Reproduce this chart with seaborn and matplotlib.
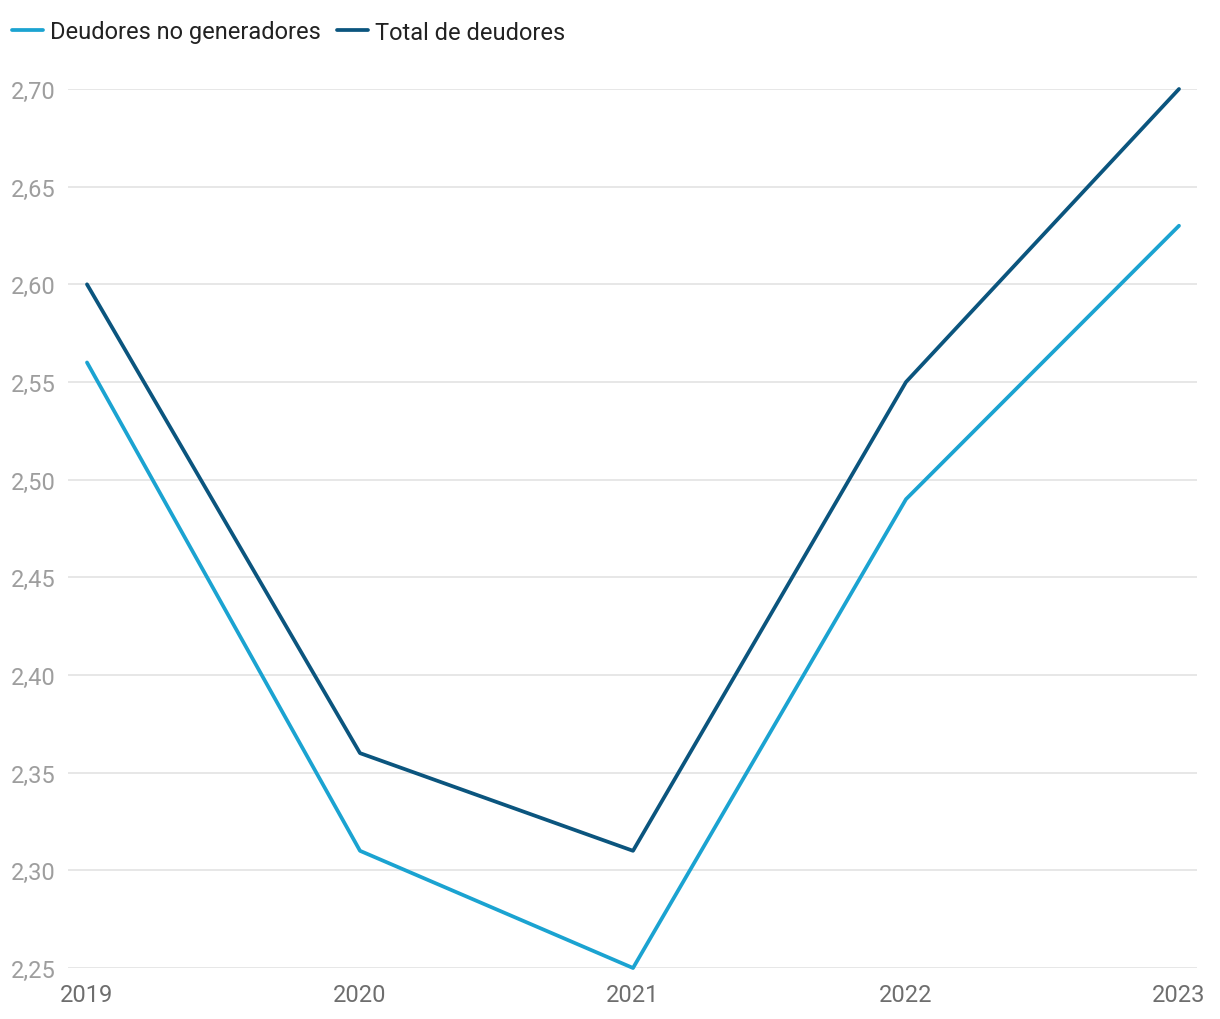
import matplotlib
matplotlib.use("Agg")
import matplotlib.pyplot as plt
import seaborn as sns
import pandas as pd
from matplotlib.ticker import FuncFormatter, MultipleLocator

years = [2019, 2020, 2021, 2022, 2023]
no_generadores = [2.56, 2.31, 2.25, 2.49, 2.63]
total = [2.60, 2.36, 2.31, 2.55, 2.70]
series_names = ["Deudores no generadores", "Total de deudores"]
colors = ["#1ba3d1", "#0b557e"]

df = pd.DataFrame({
    "year": years * 2,
    "value": no_generadores + total,
    "serie": [series_names[0]] * len(years) + [series_names[1]] * len(years),
})

sns.set_style("white")
plt.rcParams["font.family"] = ["Roboto", "DejaVu Sans"]

fig = plt.figure(figsize=(12.2, 10.2), dpi=100)
ax = fig.add_axes([68 / 1220, 1 - 969 / 1020, (1197 - 68) / 1220, (969 - 90) / 1020])

sns.lineplot(data=df, x="year", y="value", hue="serie", palette=colors,
             linewidth=2.7, ax=ax, clip_on=False)

ax.set_xlim(2019 - 19 / 273, 2023 + 18 / 273)
ax.set_ylim(2.25, 2.70)
ax.yaxis.set_major_locator(MultipleLocator(0.05))
ax.yaxis.set_major_formatter(FuncFormatter(lambda v, p: f"{v:.2f}".replace(".", ",")))
ax.set_xticks(years)
ax.grid(axis="y", color="#e3e3e3", linewidth=1.2)
ax.set_axisbelow(True)
for s in ax.spines.values():
    s.set_visible(False)
ax.tick_params(axis="y", length=0, pad=9, labelsize=17, labelcolor="#9e9e9e")
ax.tick_params(axis="x", length=0, pad=11, labelsize=17, labelcolor="#6e6e6e")
ax.set_xlabel("")
ax.set_ylabel("")

handles, labels = ax.get_legend_handles_labels()
ax.legend(handles, labels, loc="center left", bbox_to_anchor=(12 / 1220, 1 - 33 / 1020),
          bbox_transform=fig.transFigure, ncol=2, frameon=False, fontsize=17,
          handlelength=1.3, handletextpad=0.3, columnspacing=0.7,
          borderaxespad=0, borderpad=0, labelcolor="#222222")

fig.savefig("out.png", dpi=100)
